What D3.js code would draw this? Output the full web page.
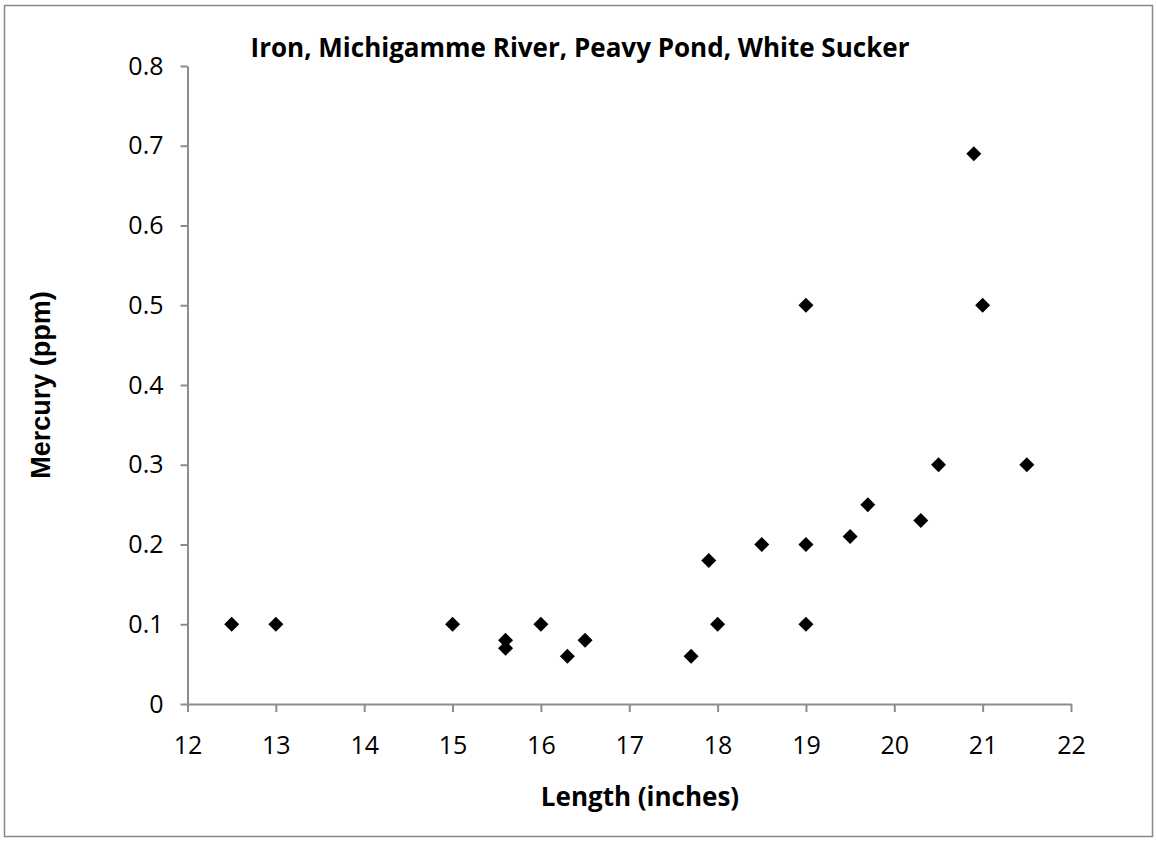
<!DOCTYPE html>
<html>
<head>
<meta charset="utf-8">
<script src="https://cdn.jsdelivr.net/npm/d3@7"></script>
<style>
  body { margin: 0; background: #fff; }
  text { font-family: "Open Sans", "Noto Sans", sans-serif; fill: #000; }
</style>
</head>
<body>
<svg id="chart" width="1156" height="842"></svg>
<script>
const lengths = [12.5, 13, 15, 15.6, 15.6, 16, 16.3, 16.5, 17.7, 17.9, 18, 18.5, 19, 19, 19, 19.5, 19.7, 20.3, 20.5, 20.9, 21, 21.5];
const mercury = [0.1, 0.1, 0.1, 0.08, 0.07, 0.1, 0.06, 0.08, 0.06, 0.18, 0.1, 0.2, 0.5, 0.2, 0.1, 0.21, 0.25, 0.23, 0.3, 0.69, 0.5, 0.3];
const xTicks = [12, 13, 14, 15, 16, 17, 18, 19, 20, 21, 22];
const yTicks = [0, 0.1, 0.2, 0.3, 0.4, 0.5, 0.6, 0.7, 0.8];
const title = "Iron, Michigamme River, Peavy Pond, White Sucker";
const xTitle = "Length (inches)";
const yTitle = "Mercury (ppm)";

const svg = d3.select("#chart");
svg.append("rect").attr("x", 4.5).attr("y", 5.5).attr("width", 1148).attr("height", 831)
  .attr("fill", "#fff").attr("stroke", "#888").attr("stroke-width", 1.5);

const x = d3.scaleLinear().domain([12, 22]).range([187.5, 1071]);
const y = d3.scaleLinear().domain([0, 0.8]).range([704, 66]);

const xAxis = svg.append("g").attr("transform", `translate(0,${y(0)})`)
  .call(d3.axisBottom(x).tickValues(xTicks).tickSize(8).tickSizeOuter(0).tickFormat(d3.format("d")));
const yAxis = svg.append("g").attr("transform", `translate(${x(12)},0)`)
  .call(d3.axisLeft(y).tickValues(yTicks).tickSize(7).tickPadding(17).tickSizeOuter(0).tickFormat(d => d === 0 ? "0" : d3.format(".1f")(d)));
[xAxis, yAxis].forEach(g => {
  g.selectAll("path, line").attr("stroke", "#8c8c8c").attr("stroke-width", 2);
  g.selectAll("text").style("font-family", "'Open Sans', 'Noto Sans', sans-serif").style("font-size", "25px").attr("fill", "#000");
});
xAxis.selectAll("text").attr("y", 50).attr("dy", 0);

const pts = lengths.map((l, i) => ({ x: l, y: mercury[i] }));
svg.append("g").selectAll("path").data(pts).join("path")
  .attr("d", d => {
    const cx = x(d.x), cy = y(d.y), r = 7.5;
    return `M${cx},${cy - r}L${cx + r},${cy}L${cx},${cy + r}L${cx - r},${cy}Z`;
  })
  .attr("fill", "#000");

svg.append("text").attr("x", 580).attr("y", 57).attr("text-anchor", "middle")
  .style("font-size", "26px").style("font-weight", "bold").text(title);
svg.append("text").attr("x", 640).attr("y", 806).attr("text-anchor", "middle")
  .style("font-size", "26px").style("font-weight", "bold").text(xTitle);
svg.append("text").attr("transform", "translate(50,385) rotate(-90)").attr("text-anchor", "middle")
  .style("font-family", "Arial, 'Liberation Sans', sans-serif")
  .style("font-size", "27px").style("font-weight", "bold").text(yTitle);
</script>
</body>
</html>
